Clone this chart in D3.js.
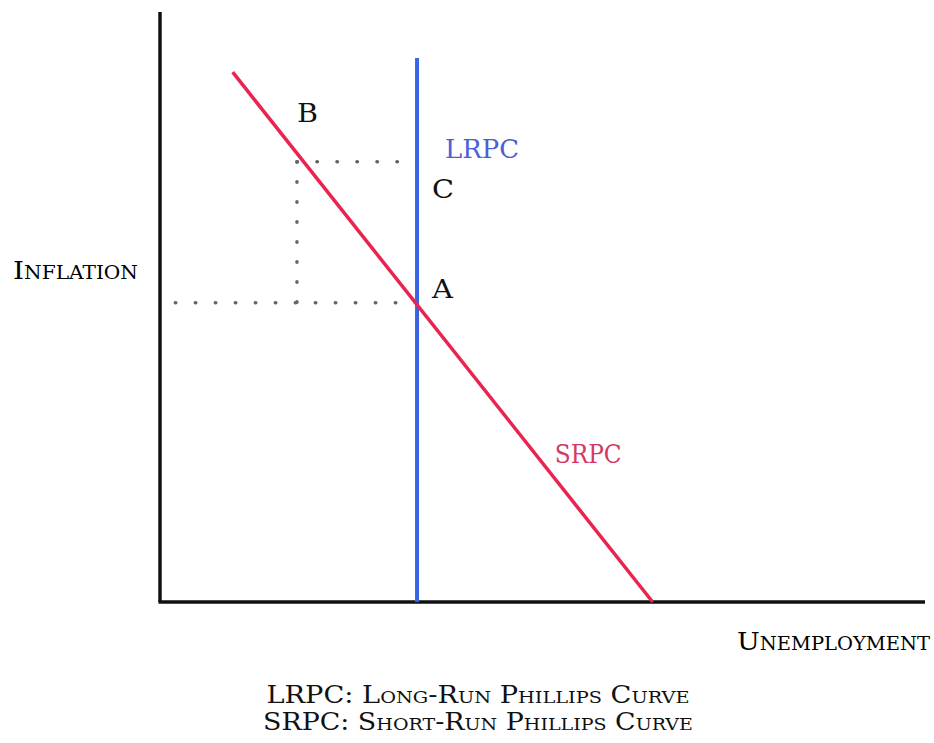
<!DOCTYPE html>
<html>
<head>
<meta charset="utf-8">
<script src="https://cdn.jsdelivr.net/npm/d3@7"></script>
<style>
  html, body { margin: 0; padding: 0; background: #fff; }
  svg { display: block; }
  svg text { font-family: "DejaVu Serif", "Liberation Serif", serif; }
</style>
</head>
<body>
<svg id="chart" width="934" height="743"></svg>
<script>
// ---- data (unemployment %, inflation %) in abstract chart units ----
const lrpcU = 33.6;                 // natural rate of unemployment
const lrpcTop = 92.2;               // top of LRPC line
const srpcU = [9.5, 64.4];          // SRPC endpoints, unemployment
const srpcPi = [89.8, 0];           // SRPC endpoints, inflation
const pointA = [33.6, 50.7];
const pointB = [17.9, 74.6];
const pointC = [33.6, 74.6];
const guideStartU = 2.0;
const axisLabels = ["Inflation", "Unemployment"];
const footLines = ["LRPC: Long-Run Phillips Curve", "SRPC: Short-Run Phillips Curve"];

const svg = d3.select("#chart");
const x = d3.scaleLinear().domain([0, 100]).range([160, 925]);
const y = d3.scaleLinear().domain([0, 100]).range([602, 12]);

// axes (plain lines, no ticks)
svg.append("line").attr("x1", x(0)).attr("x2", x(0)).attr("y1", y(100)).attr("y2", y(0))
  .attr("stroke", "#111").attr("stroke-width", 3.5);
svg.append("line").attr("x1", x(0) - 1.5).attr("x2", x(100)).attr("y1", y(0)).attr("y2", y(0))
  .attr("stroke", "#111").attr("stroke-width", 3.5);

// dotted guides
function guide(x1, y1, x2, y2) {
  svg.append("line").attr("x1", x1).attr("y1", y1).attr("x2", x2).attr("y2", y2)
    .attr("stroke", "#666").attr("stroke-width", 3.5)
    .attr("stroke-linecap", "round").attr("stroke-dasharray", "0.5 19.5");
}
guide(x(guideStartU), y(pointA[1]), x(pointA[0]), y(pointA[1]));
guide(x(pointB[0]), y(pointB[1]), x(pointC[0]), y(pointC[1]));
guide(x(pointB[0]), y(pointB[1]), x(pointB[0]), y(pointA[1]));

// LRPC
svg.append("line").attr("x1", x(lrpcU)).attr("x2", x(lrpcU)).attr("y1", y(lrpcTop)).attr("y2", y(0))
  .attr("stroke", "#3a62e4").attr("stroke-width", 4);

// SRPC
const line = d3.line().x(d => x(d[0])).y(d => y(d[1]));
svg.append("path").datum(d3.zip(srpcU, srpcPi)).attr("d", line)
  .attr("fill", "none").attr("stroke", "#e8244f").attr("stroke-width", 3.5);

// point labels
const lab = (t, px, py, col, w) => svg.append("text").attr("x", px).attr("y", py)
  .attr("font-size", 26).attr("fill", col)
  .attr("textLength", w).attr("lengthAdjust", "spacingAndGlyphs").text(t);
lab("B", x(pointB[0]), y(pointB[1]) - 40, "#111", 21);
lab("C", x(pointC[0]) + 15, y(pointC[1]) + 36, "#111", 22);
lab("A", x(pointA[0]) + 15, y(pointA[1]) - 5, "#111", 21);
lab("LRPC", x(lrpcU) + 28, y(pointC[1]) - 4, "#4b5fd8", 74);
lab("SRPC", x(srpcU[0]) + 322, y(srpcPi[1]) - 139, "#d33a62", 67);

// axis titles (small caps)
svg.append("text").attr("x", 13).attr("y", 279).attr("font-size", 25)
  .style("font-variant", "small-caps").attr("fill", "#000")
  .attr("textLength", 125).attr("lengthAdjust", "spacingAndGlyphs").text(axisLabels[0]);
svg.append("text").attr("x", 737).attr("y", 650).attr("font-size", 25)
  .style("font-variant", "small-caps").attr("fill", "#000")
  .attr("textLength", 193).attr("lengthAdjust", "spacingAndGlyphs").text(axisLabels[1]);

// footnotes
const footLen = [423, 430];
footLines.forEach((t, i) => {
  svg.append("text").attr("x", 478).attr("y", 703 + i * 27).attr("text-anchor", "middle")
    .attr("font-size", 24)
    .style("font-variant", "small-caps").attr("fill", "#111")
    .attr("textLength", footLen[i]).attr("lengthAdjust", "spacingAndGlyphs").text(t);
});
</script>
</body>
</html>
